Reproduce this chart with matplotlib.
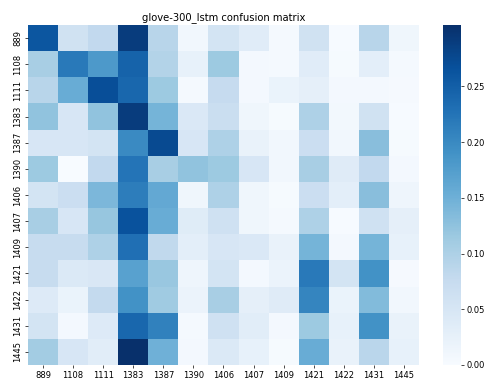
import numpy as np
import matplotlib
matplotlib.use("Agg")
import matplotlib.pyplot as plt
from matplotlib.ticker import FormatStrFormatter
import seaborn as sns

labels = ["889", "1108", "1111", "1383", "1387", "1390", "1406",
          "1407", "1409", "1421", "1422", "1431", "1445"]

# rows = true class, cols = predicted class
row_889 = [0.260, 0.060, 0.080, 0.290, 0.090, 0.010, 0.055, 0.035, 0.005, 0.060, 0.002, 0.090, 0.012]
row_1108 = [0.105, 0.220, 0.180, 0.245, 0.095, 0.025, 0.115, 0.006, 0.005, 0.035, 0.003, 0.030, 0.005]
row_1111 = [0.090, 0.155, 0.270, 0.240, 0.115, 0.005, 0.077, 0.006, 0.020, 0.028, 0.006, 0.006, 0.004]
row_1383 = [0.125, 0.050, 0.125, 0.290, 0.145, 0.045, 0.070, 0.013, 0.003, 0.100, 0.008, 0.060, 0.002]
row_1387 = [0.050, 0.050, 0.055, 0.200, 0.275, 0.050, 0.100, 0.022, 0.010, 0.068, 0.010, 0.130, 0.003]
row_1390 = [0.115, 0.000, 0.080, 0.225, 0.105, 0.125, 0.115, 0.050, 0.010, 0.105, 0.038, 0.080, 0.007]
row_1406 = [0.055, 0.068, 0.140, 0.215, 0.160, 0.013, 0.100, 0.012, 0.003, 0.068, 0.030, 0.130, 0.014]
row_1407 = [0.105, 0.050, 0.120, 0.265, 0.155, 0.036, 0.063, 0.012, 0.005, 0.100, 0.002, 0.063, 0.028]
row_1409 = [0.075, 0.075, 0.100, 0.230, 0.082, 0.030, 0.050, 0.045, 0.022, 0.145, 0.006, 0.145, 0.025]
row_1421 = [0.075, 0.043, 0.047, 0.170, 0.118, 0.014, 0.055, 0.007, 0.018, 0.220, 0.055, 0.190, 0.004]
row_1422 = [0.040, 0.020, 0.078, 0.190, 0.113, 0.018, 0.105, 0.028, 0.038, 0.205, 0.020, 0.135, 0.010]
row_1431 = [0.055, 0.007, 0.040, 0.240, 0.210, 0.005, 0.063, 0.034, 0.007, 0.115, 0.024, 0.190, 0.022]
row_1445 = [0.110, 0.050, 0.034, 0.305, 0.150, 0.006, 0.043, 0.024, 0.003, 0.155, 0.022, 0.088, 0.024]

matrix = np.array([row_889, row_1108, row_1111, row_1383, row_1387, row_1390, row_1406,
                   row_1407, row_1409, row_1421, row_1422, row_1431, row_1445])

fig = plt.figure(figsize=(4.85, 3.79), dpi=100)
ax = fig.add_axes([28 / 485, 1 - 365 / 379, 391 / 485, 340 / 379])
cax = fig.add_axes([443 / 485, 1 - 365 / 379, 18 / 485, 340 / 379])

sns.heatmap(matrix, cmap="Blues", ax=ax, cbar_ax=cax,
            xticklabels=labels, yticklabels=labels)

ax.set_title("glove-300_lstm confusion matrix", fontsize=7.2, pad=3.6)
ax.tick_params(axis="both", labelsize=6, length=2.1, width=0.5, pad=2)
plt.setp(ax.get_yticklabels(), rotation=90, va="center")
plt.setp(ax.get_xticklabels(), rotation=0)
cax.tick_params(labelsize=6, length=2.1, width=0.5, pad=2)
cax.set_yticks([0.0, 0.05, 0.10, 0.15, 0.20, 0.25])
cax.yaxis.set_major_formatter(FormatStrFormatter("%.2f"))

fig.savefig("out.png", dpi=100)
